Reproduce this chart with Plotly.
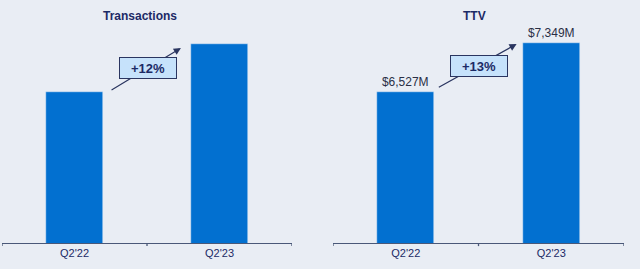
import plotly.graph_objects as go

categories = ["Q2'22", "Q2'23"]
transactions_index = [100, 112]          # relative index (no values shown), +12%
ttv_values = [6527, 7349]                # $M
ttv_labels = ["$6,527M", "$7,349M"]
growth_labels = ["+12%", "+13%"]
titles = ["Transactions", "TTV"]

BAR = "#0270d0"
NAVY = "#1c2a66"
BG = "#e9edf4"
FONT = "Liberation Sans, Arial"

fig = go.Figure()
fig.add_trace(go.Bar(x=[0, 1], y=transactions_index, marker_color=BAR, width=0.39,
                     xaxis="x", yaxis="y", hoverinfo="skip"))
fig.add_trace(go.Bar(x=[0, 1], y=ttv_values, marker_color=BAR, width=0.39,
                     xaxis="x2", yaxis="y2", text=ttv_labels, textposition="outside",
                     cliponaxis=False,
                     textfont=dict(family=FONT, size=12, color="#2a2f45"),
                     hoverinfo="skip"))

xcommon = dict(tickmode="array", tickvals=[0, 1], ticktext=categories, range=[-0.5, 1.5],
               showline=True, linecolor="#4a5878", linewidth=1.3, ticks="",
               showgrid=False, zeroline=False,
               tickfont=dict(family=FONT, size=11, color=NAVY))
ycommon = dict(visible=False, showgrid=False, zeroline=False)

fig.update_layout(
    width=640, height=269, margin=dict(l=0, r=0, t=0, b=0),
    paper_bgcolor=BG, plot_bgcolor=BG, showlegend=False, bargap=0,
    xaxis=dict(domain=[2/640, 292/640], anchor="y", **xcommon),
    xaxis2=dict(domain=[333/640, 624/640], anchor="y2", **xcommon),
    yaxis=dict(domain=[26/269, 249/269], range=[62.25, 118], anchor="x", **ycommon),
    yaxis2=dict(domain=[26/269, 249/269], range=[3993, 7735], anchor="x2", **ycommon),
)

# tick marks at category boundaries
for xa, ya in [("x", "y"), ("x2", "y2")]:
    for xb in [-0.5, 0.5, 1.5]:
        fig.add_shape(type="line", xref=xa, yref=f"{ya} domain", x0=xb, x1=xb, y0=0, y1=-0.014,
                      line=dict(color="#4a5878", width=1.3))

# titles
fig.add_annotation(text=f"<b>{titles[0]}</b>", xref="x", yref="paper", x=0.45, y=(269-16)/269,
                   yanchor="middle", showarrow=False,
                   font=dict(family=FONT, size=12, color=NAVY))
fig.add_annotation(text=f"<b>{titles[1]}</b>", xref="x2", yref="paper", x=0.47, y=(269-16)/269,
                   yanchor="middle", showarrow=False,
                   font=dict(family=FONT, size=12, color=NAVY))

# growth arrows
arrows = [("x", "y", 0.245, 100.25, 0.734, 111.0), ("x2", "y2", 0.217, 6594, 0.762, 7332)]
for xa, ya, tx, ty, hx, hy in arrows:
    fig.add_annotation(xref=xa, yref=ya, axref=xa, ayref=ya, x=hx, y=hy, ax=tx, ay=ty,
                       text="", showarrow=True, arrowhead=2, arrowsize=1.2, arrowwidth=1.2,
                       arrowcolor="#2a3560")

# growth boxes
boxes = [("x", "y", 0.51, 106.1, growth_labels[0]), ("x2", "y2", 0.503, 6971, growth_labels[1])]
for xa, ya, bx, by, lab in boxes:
    fig.add_annotation(xref=xa, yref=ya, x=bx, y=by, text=f"<b>{lab}</b>", showarrow=False,
                       bgcolor="#c6e2fb", bordercolor="#2a3560", borderwidth=1,
                       width=54, height=18,
                       font=dict(family=FONT, size=13, color=NAVY))

fig.write_html("out.html")
